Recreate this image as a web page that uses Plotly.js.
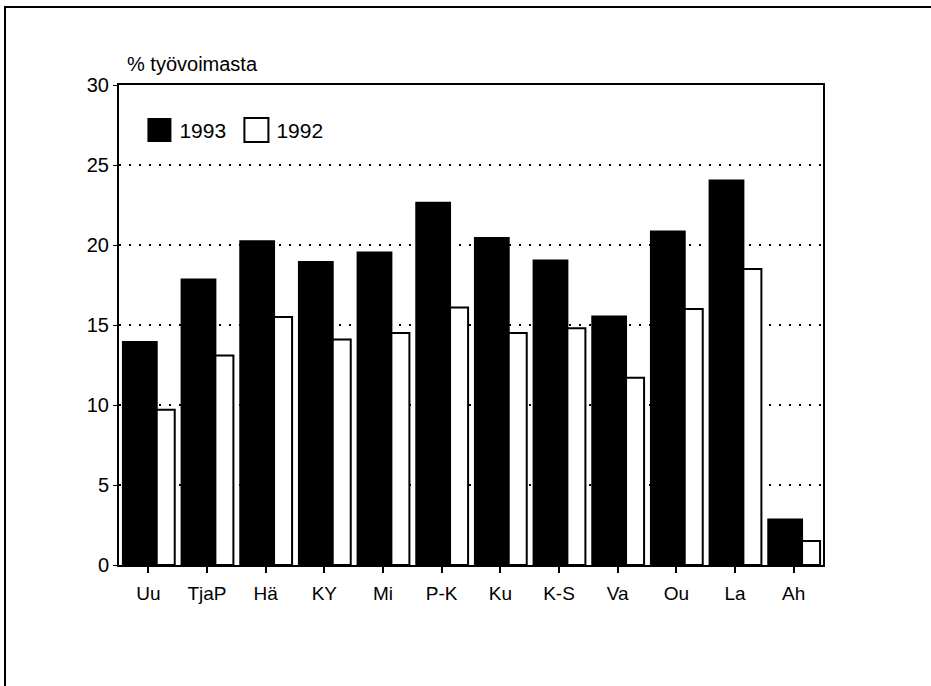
<!DOCTYPE html>
<html>
<head>
<meta charset="utf-8">
<script src="https://cdn.plot.ly/plotly-3.0.1.min.js"></script>
<style>
  html, body { margin: 0; padding: 0; background: #fff; overflow: hidden; }
  #chart { width: 931px; height: 686px; }
  #frame { position: absolute; left: 4px; top: 6px; width: 2000px; height: 2000px;
           border-top: 2px solid #000; border-left: 2px solid #000; pointer-events: none; z-index: 5; }
</style>
</head>
<body>
<div id="chart"></div>
<div id="frame"></div>
<script>
// Data
var regions = ["Uu", "TjaP", "Hä", "KY", "Mi", "P-K", "Ku", "K-S", "Va", "Ou", "La", "Ah"];
var values1993 = [14.0, 17.9, 20.3, 19.0, 19.6, 22.7, 20.5, 19.1, 15.6, 20.9, 24.1, 2.9];
var values1992 = [9.7, 13.1, 15.5, 14.1, 14.5, 16.1, 14.5, 14.8, 11.7, 16.0, 18.5, 1.5];
var seriesNames = ["1993", "1992"];
var yTitle = "% työvoimasta";

var FONT = "Liberation Sans, Arial, Helvetica, sans-serif";

var trace1992 = {
  type: "bar",
  name: seriesNames[1],
  x: regions,
  y: values1992,
  offset: -0.16,
  width: 0.61,
  marker: { color: "#ffffff", line: { color: "#000000", width: 2 } },
  hoverinfo: "x+y+name"
};
var trace1993 = {
  type: "bar",
  name: seriesNames[0],
  x: regions,
  y: values1993,
  offset: -0.45,
  width: 0.61,
  marker: { color: "#000000", line: { color: "#000000", width: 0 } },
  hoverinfo: "x+y+name"
};

var layout = {
  width: 931,
  height: 686,
  margin: { l: 119, r: 108, t: 85, b: 121, pad: 0 },
  paper_bgcolor: "#ffffff",
  plot_bgcolor: "#ffffff",
  barmode: "overlay",
  font: { family: FONT, color: "#000000", size: 19 },
  title: {
    text: yTitle,
    xref: "container", yref: "container",
    x: 127 / 931, xanchor: "left",
    y: 1 - 64 / 686, yanchor: "middle",
    font: { family: FONT, size: 20, color: "#000000" }
  },
  showlegend: true,
  legend: {
    orientation: "h",
    traceorder: "reversed",
    entrywidth: 52,
    x: 0.029, xanchor: "left",
    y: 0.948, yanchor: "top",
    bgcolor: "rgba(0,0,0,0)",
    borderwidth: 0,
    font: { family: FONT, size: 21, color: "#000000" }
  },
  xaxis: {
    type: "category",
    range: [-0.5, 11.5],
    showline: true, linecolor: "#000000", linewidth: 2, mirror: true,
    ticks: "outside", ticklen: 6, tickwidth: 2, tickcolor: "#000000",
    ticklabelstandoff: 4,
    tickfont: { family: FONT, size: 19, color: "#000000" },
    showgrid: false, zeroline: false, fixedrange: true
  },
  yaxis: {
    range: [0, 30],
    dtick: 5, tick0: 0,
    showline: true, linecolor: "#000000", linewidth: 2, mirror: true,
    ticks: "outside", ticklen: 4, tickwidth: 1, tickcolor: "#000000",
    tickfont: { family: FONT, size: 20, color: "#000000" },
    showgrid: true, gridcolor: "#000000", gridwidth: 2, griddash: "2px,8px",
    zeroline: false, fixedrange: true
  }
};

Plotly.newPlot("chart", [trace1992, trace1993], layout, { displayModeBar: false, staticPlot: true })
  .then(function (gd) {
    gd.querySelectorAll(".legendpoints path").forEach(function (p) {
      var t = p.getAttribute("transform") || "";
      p.setAttribute("transform", t + " scale(2)");
      p.style.strokeWidth = "1px";
    });
  });
</script>
</body>
</html>
